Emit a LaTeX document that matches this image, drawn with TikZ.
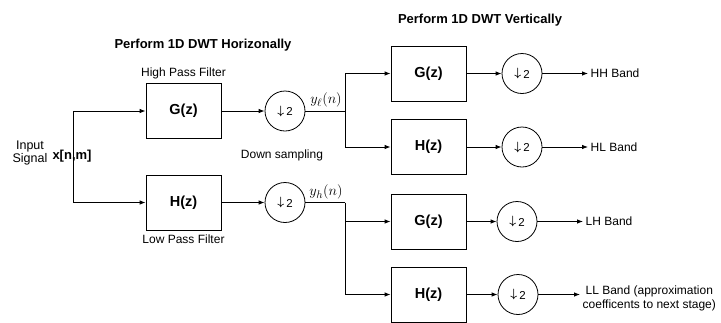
\documentclass[tikz,border=0pt]{standalone}
\usepackage{fontspec}
\usepackage{amsmath}
\setmainfont{Liberation Sans}
\usetikzlibrary{arrows.meta}
\tikzset{
  filt/.style={draw, line width=0.8pt, minimum width=75pt, minimum height=55pt, inner sep=0pt, font=\fontsize{14.5}{16}\selectfont\bfseries},
  dsamp/.style={draw, circle, line width=0.8pt, minimum size=40pt, inner sep=0pt, font=\fontsize{13}{14}\selectfont},
  txt/.style={inner sep=0pt, font=\fontsize{12}{13.5}\selectfont},
  mlab/.style={inner sep=0pt, font=\fontsize{15}{16}\selectfont},
  ttl/.style={inner sep=0pt, font=\fontsize{13}{15}\selectfont\bfseries},
  band/.style={inner xsep=2.5pt, inner ysep=0pt, anchor=west, font=\fontsize{12}{14.5}\selectfont},
  wire/.style={line width=0.8pt},
  arr/.style={wire, -{Latex[length=6pt,width=4.5pt]}}
}
\newcommand{\dsym}{$\boldsymbol{\downarrow}$\,\raisebox{-1.5pt}{\fontsize{11.5}{11.5}\selectfont 2}}
\begin{document}
\begin{tikzpicture}[x=1pt,y=-1pt]
\useasboundingbox (0,0) rectangle (721,322);
% titles
\node[ttl] (t1) at (203,45) {Perform 1D DWT Horizonally};
\node[ttl] (t2) at (480,20) {Perform 1D DWT Vertically};
% stage 1
\node[filt] (G1) at (183.5,111) {G(z)};
\node[filt] (H1) at (183.5,202.5) {H(z)};
\node[txt] (hp) at (183.5,73) {High Pass Filter};
\node[txt] (lp) at (183.5,239) {Low Pass Filter};
\node[dsamp] (D1) at (285,111) {\dsym};
\node[dsamp] (D2) at (285,202.5) {\dsym};
\node[txt] (ds) at (282,155) {Down sampling};
\node[txt, align=center, font=\fontsize{12.5}{11.5}\selectfont] (in) at (30,153) {Input\\Signal};
\node[inner sep=0pt, font=\fontsize{13}{14}\selectfont\bfseries] (x) at (72,156) {x[n,m]};
\coordinate (jl) at (73,111);
\coordinate (jh) at (73,202.5);
\draw[wire] (jl) -- (jh);
\draw[arr] (jl) -- (G1.west);
\draw[arr] (jh) -- (H1.west);
\draw[arr] (G1.east) -- (D1.west);
\draw[arr] (H1.east) -- (D2.west);
% stage 2 filters
\node[filt] (G2) at (428.5,73.5) {G(z)};
\node[filt] (H2) at (428.5,147) {H(z)};
\node[filt] (G3) at (428.5,221.5) {G(z)};
\node[filt] (H3) at (428.5,294.5) {H(z)};
\coordinate (ju) at (345,111);
\coordinate (jd) at (345,202.5);
\draw[wire] (D1.east) -- (ju);
\draw[wire] (D2.east) -- (jd);
\draw[arr] (ju) |- (G2.west);
\draw[arr] (ju) |- (H2.west);
\draw[arr] (jd) |- (G3.west);
\draw[arr] (jd) |- (H3.west);
\node[mlab] (yl) at (326,100) {$y_\ell(n)$};
\node[mlab] (yh) at (326,192) {$y_h(n)$};
% stage 2 downsamplers
\node[dsamp] (D3) at (522,73.5) {\dsym};
\node[dsamp] (D4) at (522,147) {\dsym};
\node[dsamp] (D5) at (517,221.5) {\dsym};
\node[dsamp] (D6) at (518,294.5) {\dsym};
\draw[arr] (G2.east) -- (D3.west);
\draw[arr] (H2.east) -- (D4.west);
\draw[arr] (G3.east) -- (D5.west);
\draw[arr] (H3.east) -- (D6.west);
% outputs
\node[band] (hh) at (588,73.5) {HH Band};
\node[band] (hl) at (588,147) {HL Band};
\node[band] (lh) at (583,221.5) {LH Band};
\node[band, align=center] (ll) at (580,298.5) {LL Band (approximation\\coefficents to next stage)};
\draw[arr] (D3.east) -- (hh.west);
\draw[arr] (D4.east) -- (hl.west);
\draw[arr] (D5.east) -- (lh.west);
\draw[arr] (D6.east) -- (ll.west |- D6.east);
\end{tikzpicture}
\end{document}
